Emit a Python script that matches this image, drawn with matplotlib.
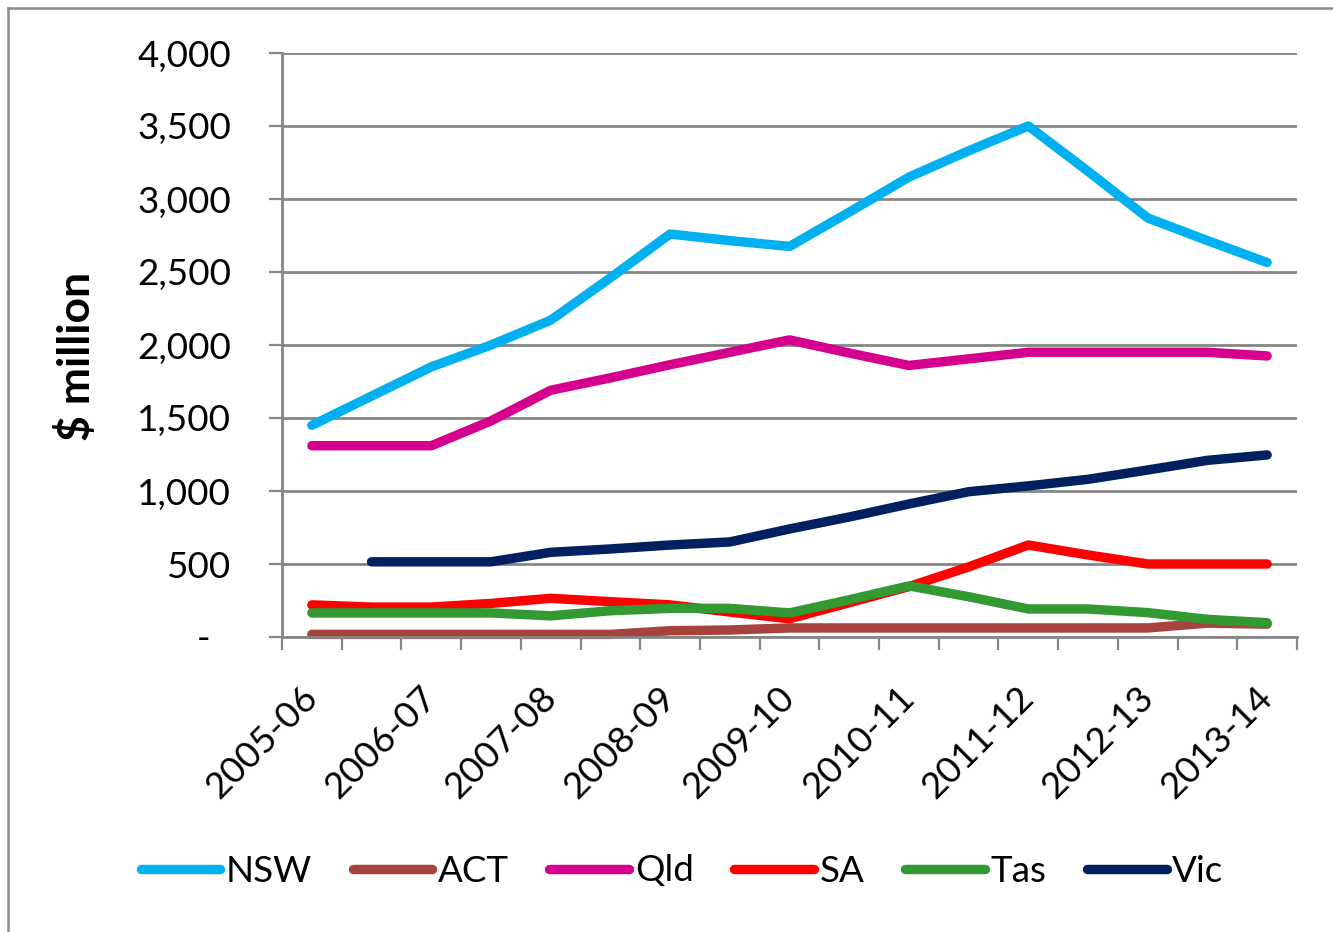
import numpy as np
import matplotlib
matplotlib.use("Agg")
import matplotlib.pyplot as plt
from matplotlib.lines import Line2D
from matplotlib.transforms import ScaledTranslation

plt.rcParams['font.family'] = ['Lato', 'DejaVu Sans']

# ---- data ----
year_labels = ['2005-06', '2006-07', '2007-08', '2008-09', '2009-10',
               '2010-11', '2011-12', '2012-13', '2013-14']
n_points = 17  # two points per labelled year (last one only labelled)

nsw = [1450, 1650, 1850, 2000, 2170, 2460, 2760, 2715, 2675, 2910, 3150, 3330, 3500, 3190, 2870, 2715, 2565]
act = [18, 18, 18, 18, 18, 18, 43, 48, 62, 62, 62, 62, 62, 62, 62, 95, 88]
qld = [1310, 1310, 1310, 1480, 1690, 1775, 1865, 1950, 2035, 1945, 1860, 1905, 1950, 1950, 1950, 1950, 1925]
sa = [220, 205, 205, 230, 265, 242, 220, 171, 125, 235, 345, 480, 630, 562, 500, 500, 500]
tas = [165, 165, 165, 165, 145, 180, 196, 196, 165, 255, 350, 276, 192, 192, 167, 121, 98]
vic = [np.nan, 515, 515, 515, 580, 603, 630, 651, 740, 822, 911, 995, 1035, 1080, 1144, 1210, 1247]

series_names = ['NSW', 'ACT', 'Qld', 'SA', 'Tas', 'Vic']
series_values = [nsw, act, qld, sa, tas, vic]
series_colors = ['#00B0F0', '#A8423F', '#D6008F', '#FF0000', '#339933', '#002060']

y_ticks = [0, 500, 1000, 1500, 2000, 2500, 3000, 3500, 4000]

# ---- figure ----
W, H = 1333, 932
fig = plt.figure(figsize=(W / 100, H / 100), dpi=100)
ax = fig.add_axes([282 / W, 1 - 637 / H, (1297 - 282) / W, (637 - 53) / H])

grid_col = '#868686'
FS = 26.5

x = np.arange(n_points)
lines = []
for name, vals, col in zip(series_names, series_values, series_colors):
    ln, = ax.plot(x, vals, color=col, lw=6.8, solid_capstyle='round',
                  solid_joinstyle='round', label=name, clip_on=False)
    lines.append(ln)

ax.set_xlim(-0.5, n_points - 0.5)
ax.set_ylim(0, 4000)

# y axis
ax.set_yticks(y_ticks)
ax.set_yticklabels(['-'] + [f'{v:,}' for v in y_ticks[1:]], fontsize=FS)
ax.yaxis.grid(True, color=grid_col, lw=2.0)
ax.set_axisbelow(True)
ax.tick_params(axis='y', direction='out', length=9.5, width=1.6, color=grid_col,
               pad=27)

# x axis: boundary ticks (major), labels at every other point (minor)
ax.set_xticks(np.arange(-0.5, n_points, 1.0))
ax.set_xticklabels([])
ax.tick_params(axis='x', which='major', direction='out', length=9, width=1.6, color=grid_col)
ax.set_xticks(np.arange(0, n_points, 2), minor=True)
ax.set_xticklabels(year_labels, minor=True, fontsize=FS, rotation=45,
                   ha='right', va='center', rotation_mode='anchor')
ax.tick_params(axis='x', which='minor', length=0, pad=40)

for s in ['top', 'right']:
    ax.spines[s].set_visible(False)
for s in ['left', 'bottom']:
    ax.spines[s].set_color(grid_col)
    ax.spines[s].set_linewidth(2.0)

# shift the "-" zero label left (accounting format)
zl = ax.get_yticklabels()[0]
zl.set_transform(zl.get_transform() + ScaledTranslation(-21 / 100, 0, fig.dpi_scale_trans))

# y axis title
fig.text(76 / W, 1 - 356 / H, '$ million', rotation=90, fontsize=32,
         fontweight='bold', ha='center', va='center')

# legend
fig.legend(handles=lines, labels=series_names, loc='center',
           bbox_to_anchor=(682 / W, 1 - 871 / H), bbox_transform=fig.transFigure,
           ncol=6, frameon=False, fontsize=FS, handlelength=2.17,
           handletextpad=0.15, columnspacing=1.1)

# outer border (top and left visible)
fig.add_artist(Line2D([8 / W, 1.0], [1 - 8 / H, 1 - 8 / H], transform=fig.transFigure,
                      color='#8C8C8C', lw=1.8))
fig.add_artist(Line2D([8 / W, 8 / W], [1 - 8 / H, 0.0], transform=fig.transFigure,
                      color='#8C8C8C', lw=1.8))

fig.savefig('out.png', dpi=100)
